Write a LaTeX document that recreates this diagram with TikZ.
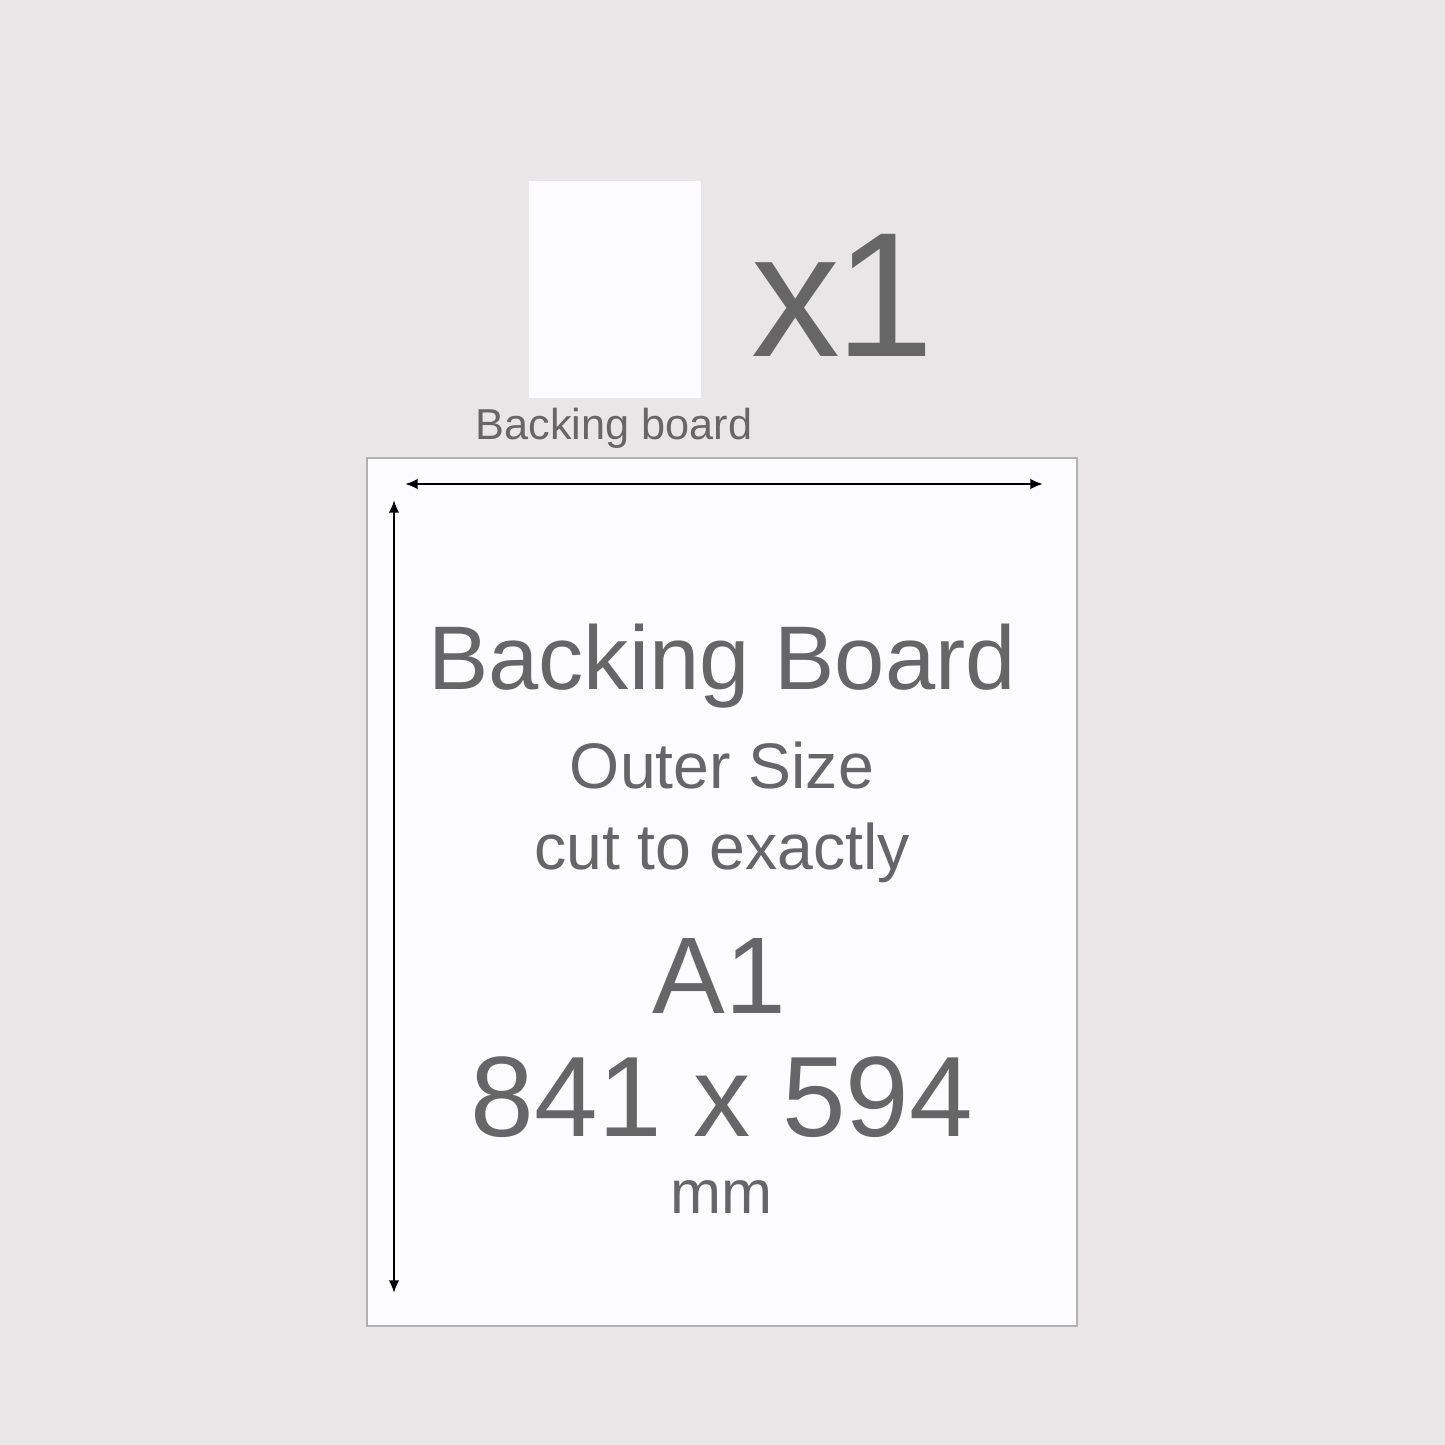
\documentclass[tikz,border=0pt]{standalone}
\usepackage{fontspec}
\setmainfont{Liberation Sans}
\usetikzlibrary{arrows.meta}
\definecolor{bggray}{HTML}{E8E6E6}
\definecolor{txtgray}{HTML}{666666}
\definecolor{edgegray}{HTML}{B0B0B0}
\definecolor{boardwhite}{HTML}{FCFCFE}
\newcommand{\fsz}[1]{\fontsize{#1}{1.2\dimexpr#1pt\relax}\selectfont}

\begin{document}
\begin{tikzpicture}[x=.01cm,y=-.01cm,
	lbl/.style={text=txtgray,inner sep=0pt,anchor=base},
	dim/.style={line width=.6pt,{Latex[length=3.6pt,width=3pt]}-{Latex[length=3.6pt,width=3pt]}}]
	\fill[bggray] (0,0) rectangle (1445,1445);
	\path
	(529,181) coordinate (ST)
	(701,398) coordinate (SB)
	(367,458) coordinate (BT)
	(1077,1326) coordinate (BB)
	(405,484) coordinate (HL)
	(1043,484) coordinate (HR)
	(394,500) coordinate (VT)
	(394,1293) coordinate (VB);
	% small board and count
	\fill[boardwhite] (ST) rectangle (SB);
	\node[lbl] (count) at (843,356) {\fsz{50.5}x\kern-.03em 1};
	\node[lbl] (small) at (614,439) {\fsz{12.3}Backing board};
	% big board
	\draw[edgegray,fill=boardwhite,line width=.3pt] (BT) rectangle (BB);
	\draw[dim] (HL)--(HR);
	\draw[dim] (VT)--(VB);
	\node[lbl] (title) at (722,689) {\fsz{25.7}Backing Board};
	\node[lbl] (outer) at (722,788) {\fsz{18.3}Outer Size};
	\node[lbl] (cut) at (722,869) {\fsz{18.3}cut to exactly};
	\node[lbl] (size) at (719,1013) {\fsz{31}A1};
	\node[lbl] (mmval) at (722,1136) {\fsz{32.5}841 x 594};
	\node[lbl] (unit) at (721,1213) {\fsz{17.4}mm};
\end{tikzpicture}
\end{document}
